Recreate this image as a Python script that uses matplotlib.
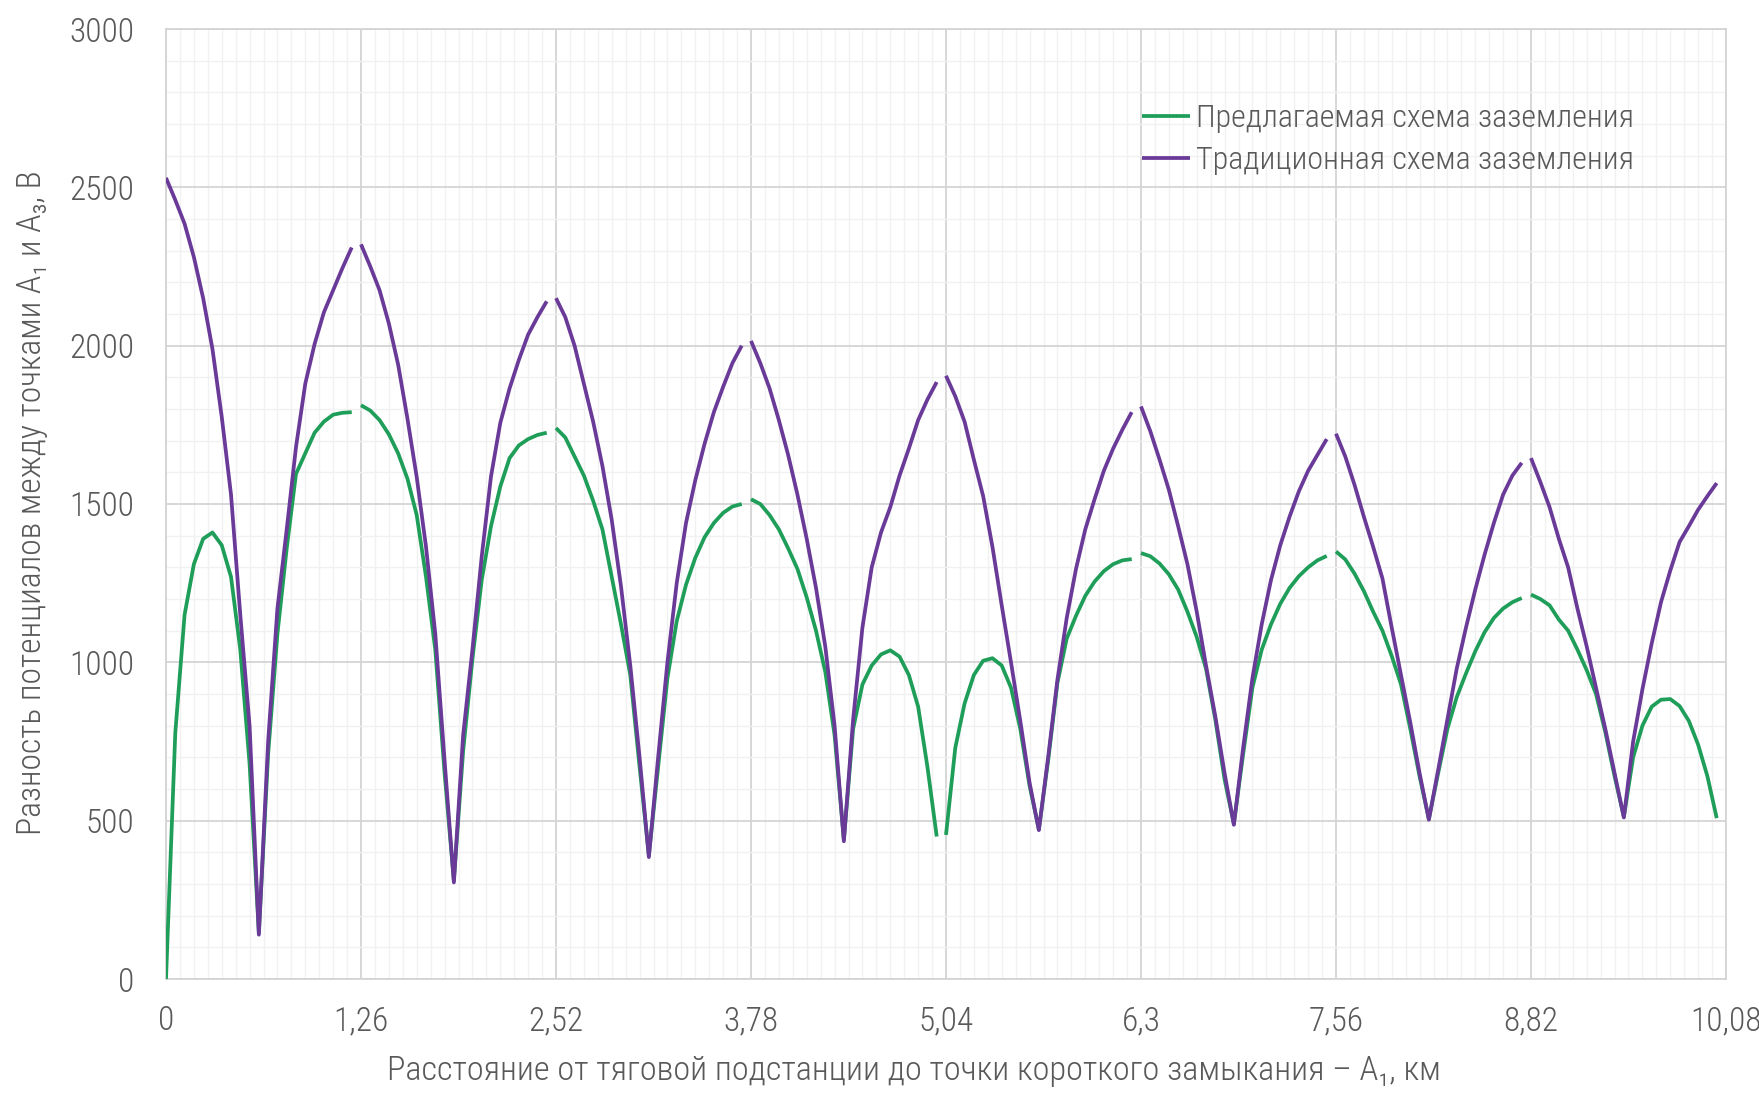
import numpy as np
import matplotlib
matplotlib.use("Agg")
import matplotlib.pyplot as plt
from matplotlib import font_manager
from matplotlib.ticker import MultipleLocator, FixedLocator, FixedFormatter

# ---- data -------------------------------------------------------------
# distance from the traction substation, km (sections of 1.26 km, step 0.06 km)
distance_km = [
    0.00, 0.06, 0.12, 0.18, 0.24, 0.30, 0.36, 0.42, 0.48, 0.54, 0.60,
    0.66, 0.72, 0.78, 0.84, 0.90, 0.96, 1.02, 1.08, 1.14, 1.20,
    1.26, 1.32, 1.38, 1.44, 1.50, 1.56, 1.62, 1.68, 1.74, 1.80, 1.86,
    1.92, 1.98, 2.04, 2.10, 2.16, 2.22, 2.28, 2.34, 2.40, 2.46,
    2.52, 2.58, 2.64, 2.70, 2.76, 2.82, 2.88, 2.94, 3.00, 3.06, 3.12,
    3.18, 3.24, 3.30, 3.36, 3.42, 3.48, 3.54, 3.60, 3.66, 3.72,
    3.78, 3.84, 3.90, 3.96, 4.02, 4.08, 4.14, 4.20, 4.26, 4.32, 4.38,
    4.44, 4.50, 4.56, 4.62, 4.68, 4.74, 4.80, 4.86, 4.92, 4.98,
    5.04, 5.10, 5.16, 5.22, 5.28, 5.34, 5.40, 5.46, 5.52, 5.58, 5.64,
    5.70, 5.76, 5.82, 5.88, 5.94, 6.00, 6.06, 6.12, 6.18, 6.24,
    6.30, 6.36, 6.42, 6.48, 6.54, 6.60, 6.66, 6.72, 6.78, 6.84, 6.90,
    6.96, 7.02, 7.08, 7.14, 7.20, 7.26, 7.32, 7.38, 7.44, 7.50,
    7.56, 7.62, 7.68, 7.74, 7.80, 7.86, 7.92, 7.98, 8.04, 8.10, 8.16,
    8.22, 8.28, 8.34, 8.40, 8.46, 8.52, 8.58, 8.64, 8.70, 8.76,
    8.82, 8.88, 8.94, 9.00, 9.06, 9.12, 9.18, 9.24, 9.30, 9.36, 9.42,
    9.48, 9.54, 9.60, 9.66, 9.72, 9.78, 9.84, 9.90, 9.96, 10.02,
]

# first point of each calculation section (the curve is broken before it)
section_starts_km = [1.26, 2.52, 3.78, 5.04, 6.30, 7.56, 8.82]

# potential difference, V — proposed grounding scheme
proposed_v = [
    0, 777, 1150, 1310, 1390, 1410, 1370, 1270, 1040, 680, 145,
    710, 1090, 1360, 1595, 1660, 1725, 1760, 1782, 1788, 1790,
    1812, 1795, 1765, 1720, 1660, 1580, 1465, 1270, 1040, 650, 310,
    720, 1010, 1260, 1430, 1555, 1645, 1685, 1705, 1718, 1725,
    1740, 1710, 1650, 1590, 1510, 1420, 1270, 1120, 960, 670, 390,
    670, 950, 1130, 1245, 1330, 1395, 1440, 1472, 1492, 1500,
    1515, 1500, 1465, 1420, 1360, 1295, 1205, 1100, 970, 770, 440,
    790, 930, 990, 1025, 1038, 1018, 960, 860, 670, 450,
    455, 730, 870, 960, 1005, 1013, 990, 920, 790, 610, 472,
    690, 935, 1075, 1147, 1210, 1255, 1288, 1310, 1322, 1326,
    1345, 1335, 1312, 1278, 1230, 1160, 1080, 980, 820, 630, 490,
    710, 920, 1040, 1120, 1185, 1235, 1272, 1300, 1322, 1336,
    1350, 1325, 1280, 1225, 1160, 1100, 1020, 930, 790, 640, 505,
    650, 790, 890, 965, 1035, 1095, 1140, 1170, 1190, 1203,
    1214, 1200, 1180, 1135, 1100, 1040, 975, 900, 780, 640, 512,
    700, 800, 860, 882, 884, 862, 815, 740, 640, 508,
]

# potential difference, V — traditional grounding scheme
traditional_v = [
    2530, 2460, 2385, 2280, 2150, 1990, 1776, 1530, 1150, 800, 140,
    750, 1170, 1420, 1680, 1880, 2005, 2105, 2175, 2245, 2310,
    2320, 2250, 2175, 2070, 1940, 1770, 1585, 1365, 1090, 690, 305,
    770, 1040, 1334, 1587, 1756, 1865, 1955, 2035, 2090, 2140,
    2150, 2090, 2000, 1880, 1760, 1620, 1450, 1240, 990, 700, 385,
    700, 1000, 1250, 1440, 1575, 1690, 1790, 1870, 1945, 2000,
    2015, 1945, 1865, 1765, 1655, 1530, 1390, 1235, 1050, 800, 435,
    820, 1110, 1300, 1410, 1490, 1590, 1675, 1765, 1830, 1885,
    1905, 1840, 1760, 1640, 1525, 1365, 1180, 1000, 815, 620, 470,
    700, 945, 1140, 1295, 1420, 1515, 1605, 1675, 1735, 1790,
    1808, 1730, 1640, 1545, 1430, 1310, 1160, 990, 830, 650, 487,
    730, 950, 1120, 1260, 1370, 1460, 1540, 1605, 1655, 1705,
    1722, 1650, 1560, 1460, 1365, 1265, 1110, 960, 810, 650, 503,
    660, 820, 980, 1110, 1230, 1340, 1440, 1530, 1590, 1630,
    1645, 1570, 1490, 1390, 1300, 1170, 1050, 920, 790, 650, 510,
    750, 915, 1060, 1190, 1290, 1380, 1430, 1482, 1525, 1566,
]

x_ticks = [0, 1.26, 2.52, 3.78, 5.04, 6.3, 7.56, 8.82, 10.08]
x_tick_labels = ["0", "1,26", "2,52", "3,78", "5,04", "6,3", "7,56", "8,82", "10,08"]
y_ticks = [0, 500, 1000, 1500, 2000, 2500, 3000]

series_labels = ["Предлагаемая схема заземления", "Традиционная схема заземления"]
x_title = "Расстояние от тяговой подстанции до точки короткого замыкания – А₁, км"
y_title = "Разность потенциалов между точками А₁ и А₃, В"

# ---- fonts ------------------------------------------------------------
installed = {f.name for f in font_manager.fontManager.ttflist}
base_font = "DejaVu Sans"
for cand in ["Roboto Condensed", "Liberation Sans Narrow", "DejaVu Sans Condensed"]:
    if cand in installed:
        base_font = cand
        break
plt.rcParams["font.family"] = [base_font, "DejaVu Sans"]
plt.rcParams["font.weight"] = "light"

text_color = "#595959"
green = "#1f9e5a"
purple = "#6a3a98"
fs = 24


def with_breaks(x, y, starts):
    """Insert NaN before each section start so sections are drawn apart."""
    x = np.asarray(x, float)
    y = np.asarray(y, float)
    cut = np.searchsorted(x, np.asarray(starts) - 1e-6)
    return np.insert(x, cut, np.nan), np.insert(y, cut, np.nan)


fig = plt.figure(figsize=(17.59, 10.93), dpi=100)
ax = fig.add_axes([166 / 1759, 1 - 979 / 1093, 1560 / 1759, 950 / 1093])

xg, yg = with_breaks(distance_km, proposed_v, section_starts_km)
xp, yp = with_breaks(distance_km, traditional_v, section_starts_km)
ax.plot(xg, yg, color=green, lw=2.7, label=series_labels[0], zorder=3,
        solid_capstyle="butt")
ax.plot(xp, yp, color=purple, lw=2.7, label=series_labels[1], zorder=4,
        solid_capstyle="butt")

ax.set_xlim(0, 10.08)
ax.set_ylim(0, 3000)
ax.xaxis.set_major_locator(FixedLocator(x_ticks))
ax.xaxis.set_major_formatter(FixedFormatter(x_tick_labels))
ax.xaxis.set_minor_locator(MultipleLocator(0.09))
ax.yaxis.set_major_locator(FixedLocator(y_ticks))
ax.yaxis.set_minor_locator(MultipleLocator(100))

ax.grid(which="major", color="#d4d4d4", lw=1.3, zorder=0)
ax.grid(which="minor", color="#f1f1f1", lw=1.0, zorder=0)
ax.set_axisbelow(True)
for s in ax.spines.values():
    s.set_color("#d4d4d4")
    s.set_linewidth(1.3)

ax.tick_params(which="both", length=0)
ax.tick_params(axis="x", pad=19, labelsize=fs, labelcolor=text_color)
ax.tick_params(axis="y", pad=23, labelsize=fs, labelcolor=text_color)

fig.text(914 / 1759, 1 - 1071 / 1093, x_title, ha="center", va="center",
         fontsize=24.7, color=text_color)
fig.text(32 / 1759, 1 - 503 / 1093, y_title, ha="center", va="center",
         rotation=90, fontsize=24.2, color=text_color)

leg = fig.legend(loc="upper left", bbox_to_anchor=(1142 / 1759, 1 - 104 / 1093),
                 frameon=False, fontsize=23, handlelength=1.5,
                 handletextpad=0.2, labelspacing=0.42, borderpad=0,
                 borderaxespad=0)
for t in leg.get_texts():
    t.set_color(text_color)

fig.savefig("out.png", dpi=100)
